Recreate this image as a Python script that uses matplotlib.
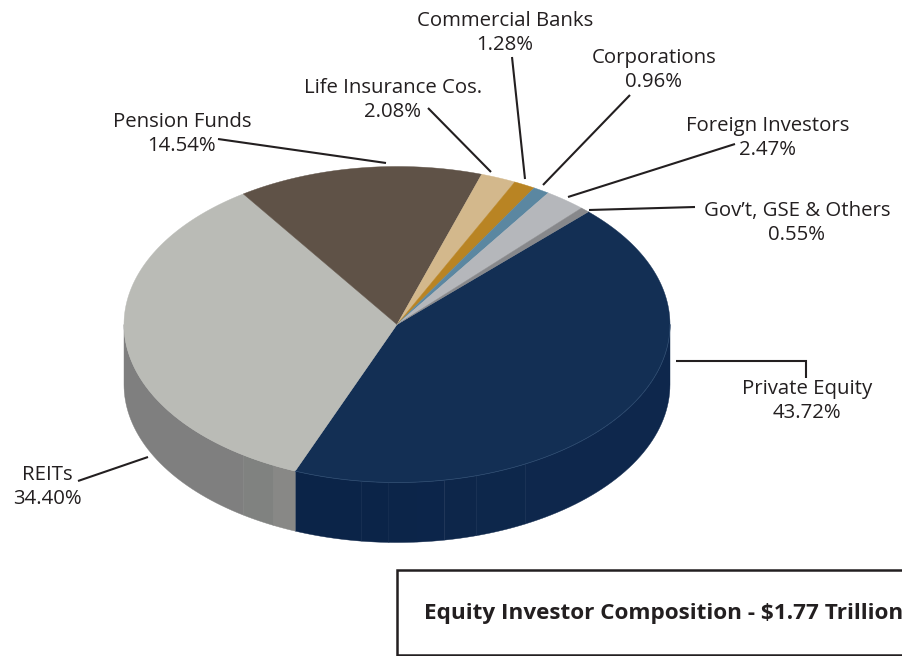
import numpy as np
import matplotlib
matplotlib.use("Agg")
import matplotlib.pyplot as plt
from matplotlib.patches import Rectangle

plt.rcParams['font.family'] = ['Open Sans', 'DejaVu Sans']

categories = ["Private Equity", "REITs", "Pension Funds", "Life Insurance Cos.",
              "Commercial Banks", "Corporations", "Foreign Investors", "Gov\u2019t, GSE & Others"]
shares = [43.72, 34.40, 14.54, 2.08, 1.28, 0.96, 2.47, 0.55]
colors = ["#132f54", "#babbb6", "#5f5247", "#d3b88c", "#b98423", "#5b87a1", "#b5b7bb", "#87888b"]

# pie geometry, in pixels
cx, cy = 397, 324.5
rx, ry = 273, 158
depth = 60
start = 45.5

# label centres and leader lines per category
label_pos = [(807, 401), (47, 487), (182, 134), (393, 100), (505, 33), (654, 70), (768, 138), (797, 223)]
leaders = [[(676, 361), (806, 361), (806, 378)],
           [(78, 481), (148, 457)],
           [(218, 139), (386, 163)],
           [(428, 108), (491, 172)],
           [(512, 57), (525, 179)],
           [(630, 95), (543, 185)],
           [(735, 144), (568, 197)],
           [(695, 207), (589, 210)]]


def ell(a, dy=0):
    a = np.radians(a)
    return cx + rx * np.cos(a), cy - ry * np.sin(a) + dy


fig = plt.figure(figsize=(9.03, 6.56), dpi=100)
ax = fig.add_axes([0, 0, 1, 1])
ax.set_xlim(0, 903)
ax.set_ylim(656, 0)
ax.axis("off")

# angle boundaries go clockwise from start
bounds = start - np.cumsum([0] + shares) * 3.6

# side wall, split in faint bands like the original shading
def wall(a0, a1, color):
    t = np.linspace(a0, a1, 40)
    x0, y0 = ell(t)
    x1, y1 = ell(t[::-1], depth)
    ax.fill(np.r_[x0, x1], np.r_[y0, y1], color=color, lw=0.3)


navy_end = bounds[1]
navy_edges = [navy_end, -97.4, -91.7, -85.8, -80, -73, -62, 0]
navy_cols = ["#0b2448", "#0b2448", "#0c2549", "#0c254a", "#0d264a", "#0d274b", "#0e274c"]
for i in range(len(navy_cols)):
    wall(navy_edges[i], navy_edges[i + 1], navy_cols[i])

grey_edges = [-180, -124.3, -116.8, navy_end]
grey_cols = ["#7f7f7f", "#808280", "#888886"]
for i in range(len(grey_cols)):
    wall(grey_edges[i], grey_edges[i + 1], grey_cols[i])

# top face
for i in range(len(shares)):
    t = np.linspace(bounds[i], bounds[i + 1], 200)
    x, y = ell(t)
    ax.fill(np.r_[cx, x], np.r_[cy, y], color=colors[i], lw=0.3, zorder=3)

# faint rim on the navy slice
t = np.linspace(navy_end, 0, 100)
x, y = ell(t)
ax.plot(x, y, color="#2f4d72", lw=0.5, zorder=4)

# leader lines and labels
for i in range(len(categories)):
    xs, ys = zip(*leaders[i])
    ax.plot(xs, ys, color="#231f20", lw=1.5, solid_capstyle="butt", solid_joinstyle="miter", zorder=5)
    ax.text(label_pos[i][0], label_pos[i][1], categories[i] + "\n" + "%.2f%%" % shares[i],
            ha="center", va="center", fontsize=14.7, color="#231f20", linespacing=1.31)

# title box runs off the right edge
ax.add_patch(Rectangle((397, 570), 520, 85, fc="white", ec="#231f20", lw=1.8, zorder=5))
ax.text(424, 613, "Equity Investor Composition - $1.77 Trillion", ha="left", va="center",
        fontsize=16.2, fontweight="bold", color="#231f20", zorder=6)

fig.savefig("out.png", dpi=100)
